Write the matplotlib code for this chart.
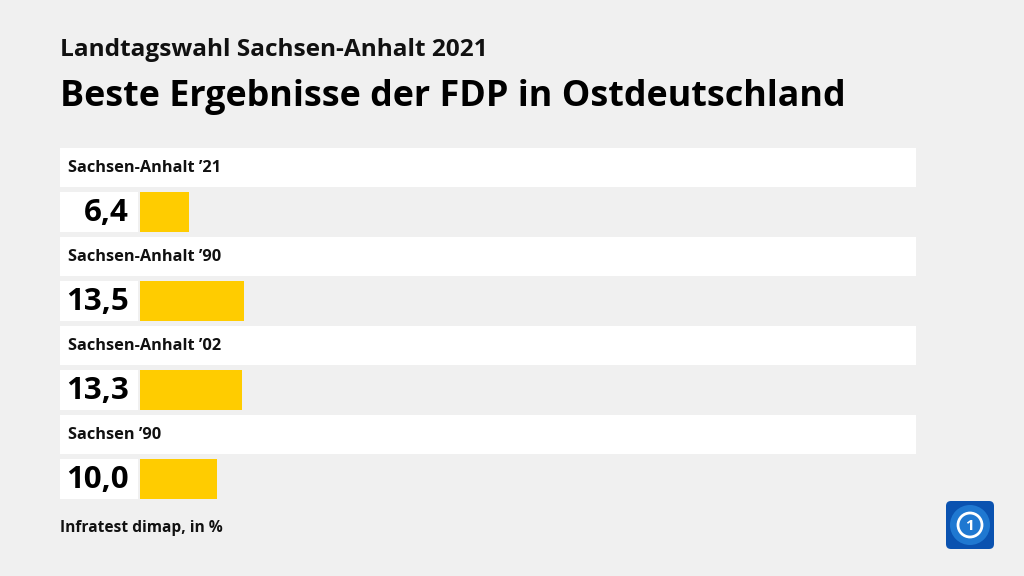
import matplotlib
matplotlib.use("Agg")
import matplotlib.pyplot as plt
from matplotlib.patches import Rectangle, FancyBboxPatch, Circle

plt.rcParams['font.family'] = ['Open Sans', 'DejaVu Sans']

subtitle = "Landtagswahl Sachsen-Anhalt 2021"
title = "Beste Ergebnisse der FDP in Ostdeutschland"
source = "Infratest dimap, in %"
labels = ["Sachsen-Anhalt \u201921", "Sachsen-Anhalt \u201990",
          "Sachsen-Anhalt \u201902", "Sachsen \u201990"]
values = [6.4, 13.5, 13.3, 10.0]

bg = '#f0f0f0'
yellow = '#ffcc00'
W, H = 1024, 576
px_per_unit = 7.7

fig = plt.figure(figsize=(W / 100, H / 100), dpi=100, facecolor=bg)
ax = fig.add_axes([0, 0, 1, 1])
ax.set_xlim(0, W)
ax.set_ylim(H, 0)
ax.axis('off')
ax.set_facecolor(bg)

ax.text(60, 50, subtitle, fontsize=17.6, fontweight='bold', va='center', color='#111111')
ax.text(60, 97, title, fontsize=25.8, fontweight='bold', va='center', color='#000000')

row0 = 148
pitch = 89
centers = []
for i, lab in enumerate(labels):
    top = row0 + pitch * i
    ax.add_patch(Rectangle((60, top), 856, 39, color='white', lw=0))
    ax.text(68, top + 20, lab, fontsize=11.8, fontweight='bold', va='center', color='#111111')
    c = top + 64
    centers.append(c)
    ax.add_patch(Rectangle((60, c - 20), 78, 40, color='white', lw=0))
    ax.text(129, c + 1, f"{values[i]:.1f}".replace('.', ','), fontsize=22.5,
            fontweight='bold', ha='right', va='center', color='#000000')

ax.text(60, 528, source, fontsize=11.2, fontweight='bold', va='center', color='#111111')

# logo
ax.add_patch(FancyBboxPatch((946, 501), 48, 48, boxstyle='round,pad=0,rounding_size=5',
                            fc='#0a52b0', ec='none'))
ax.add_patch(Circle((970, 525), 20, fc='#1f78d1', ec='none'))
ax.add_patch(Circle((970, 525), 12, fc='none', ec='white', lw=2))
ax.text(970, 526, "1", fontsize=11, fontweight='bold', color='white', ha='center', va='center')

bx = fig.add_axes([140 / W, 0, 776 / W, 1])
bx.set_xlim(0, 776 / px_per_unit)
bx.set_ylim(H, 0)
bx.axis('off')
bx.patch.set_alpha(0)
bx.barh(centers, values, height=40, color=yellow, lw=0)

fig.savefig('out.png', dpi=100, facecolor=bg)
